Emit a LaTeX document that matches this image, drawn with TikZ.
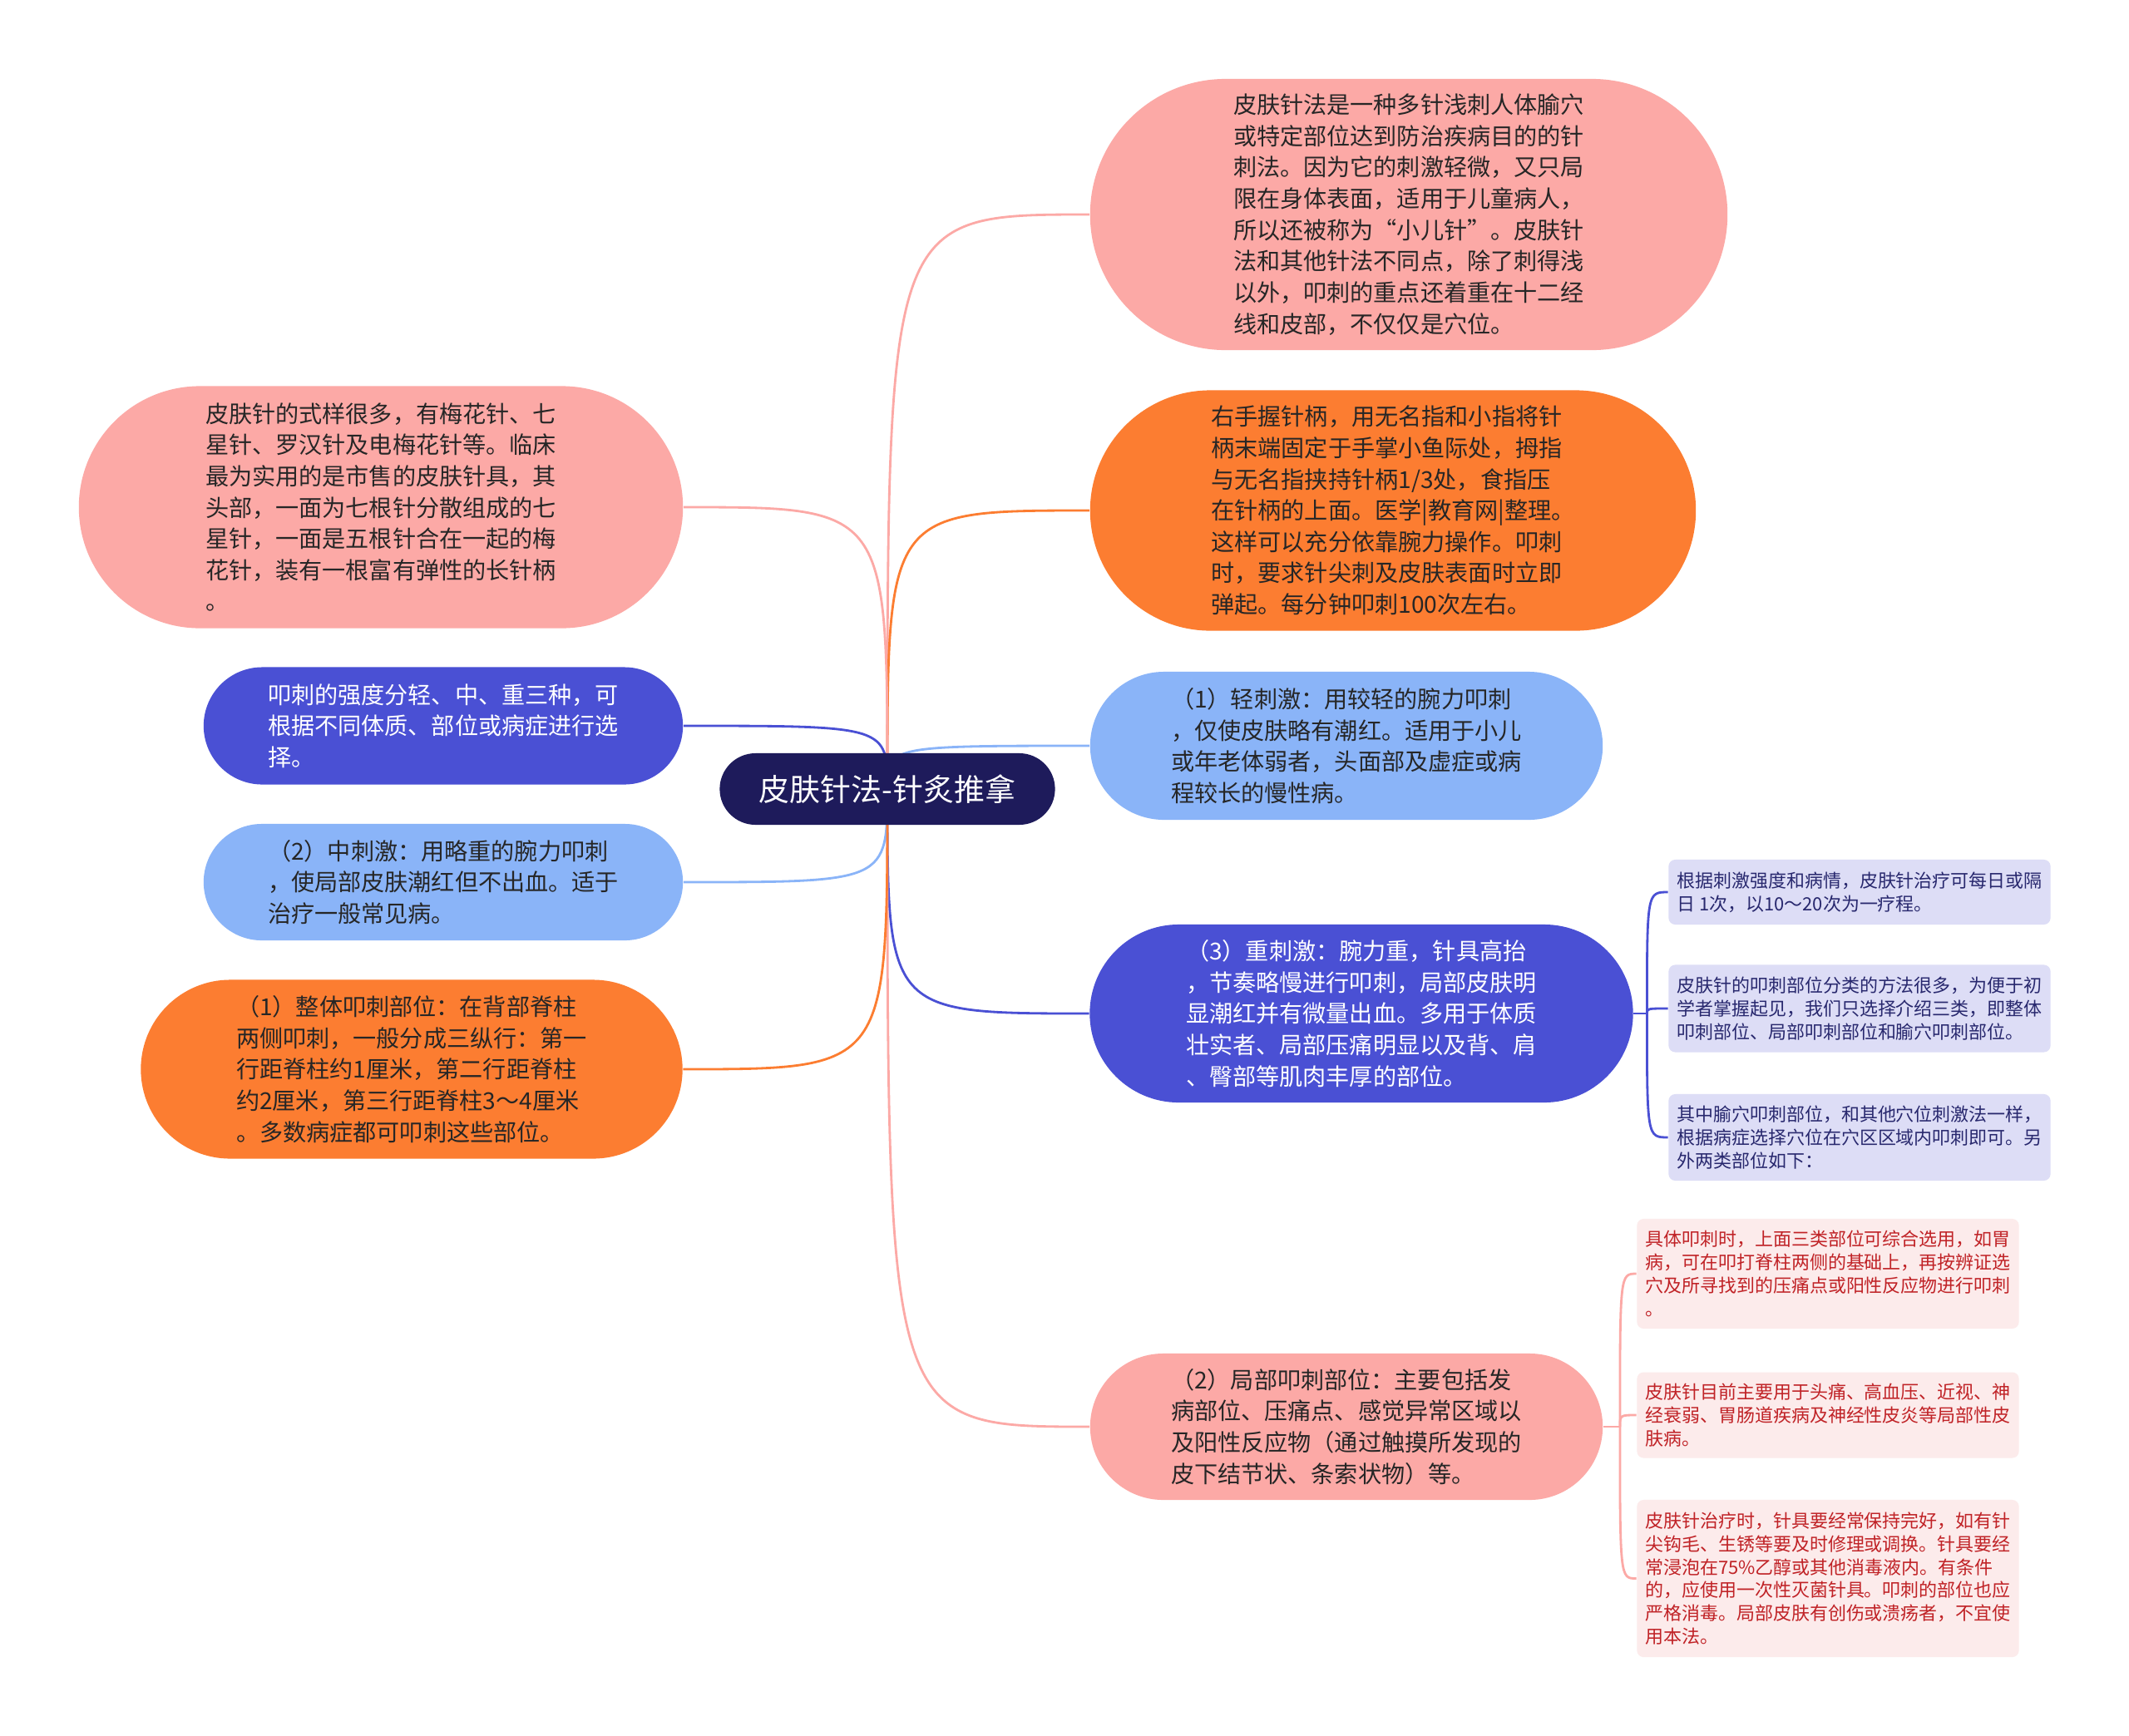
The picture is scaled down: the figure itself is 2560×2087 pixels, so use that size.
\documentclass[tikz,border=0pt]{standalone}
\usepackage{fontspec}
\setmainfont{Noto Sans CJK SC}
\usetikzlibrary{positioning, shapes.misc, backgrounds}
\definecolor{rootnavy}{RGB}{30,27,91}
\definecolor{nodepink}{RGB}{252,169,166}
\definecolor{nodeorange}{RGB}{252,125,49}
\definecolor{nodesky}{RGB}{138,180,248}
\definecolor{nodeblue}{RGB}{74,80,212}
\definecolor{leaflav}{RGB}{221,221,246}
\definecolor{leafpink}{RGB}{252,235,235}
\definecolor{leafred}{RGB}{192,34,38}
\definecolor{leafnavy}{RGB}{40,40,110}

\begin{document}
\begin{tikzpicture}[x=0.01cm, y=-0.01cm,
  pill/.style={rounded rectangle, inner sep=0pt, align=left, text=black!85,
               font=\fontsize{8}{10.7}\selectfont},
  leaf/.style={rectangle, rounded corners=0.8mm, inner sep=0pt, align=left,
               minimum width=4.59cm, font=\fontsize{6.25}{7.9}\selectfont},
  link/.style={line width=0.8pt}
]
\useasboundingbox (0,0) rectangle (2560,2087);

\node[pill, fill=rootnavy, text=white, minimum width=4.03cm, minimum height=0.86cm,
      font=\fontsize{10.5}{12}\selectfont] (root) at (1067,949) {皮肤针法-针炙推拿};

\node[pill, fill=nodepink, minimum width=7.66cm, minimum height=3.26cm] (intro) at (1694,258)
  {皮肤针法是一种多针浅刺人体腧穴\\或特定部位达到防治疾病目的的针\\刺法。因为它的刺激轻微，又只局\\限在身体表面，适用于儿童病人，\\所以还被称为“小儿针”。皮肤针\\法和其他针法不同点，除了刺得浅\\以外，叩刺的重点还着重在十二经\\线和皮部，不仅仅是穴位。};
\node[pill, fill=nodeorange, minimum width=7.28cm, minimum height=2.89cm] (hold) at (1675,614)
  {右手握针柄，用无名指和小指将针\\柄末端固定于手掌小鱼际处，拇指\\与无名指挟持针柄1/3处，食指压\\在针柄的上面。医学|教育网|整理。\\这样可以充分依靠腕力操作。叩刺\\时，要求针尖刺及皮肤表面时立即\\弹起。每分钟叩刺100次左右。};
\node[pill, fill=nodesky, minimum width=6.16cm, minimum height=1.78cm] (light) at (1619,897)
  {（1）轻刺激：用较轻的腕力叩刺\\，仅使皮肤略有潮红。适用于小儿\\或年老体弱者，头面部及虚症或病\\程较长的慢性病。};
\node[pill, fill=nodeblue, text=white, minimum width=6.53cm, minimum height=2.14cm] (heavy) at (1637,1219)
  {（3）重刺激：腕力重，针具高抬\\，节奏略慢进行叩刺，局部皮肤明\\显潮红并有微量出血。多用于体质\\壮实者、局部压痛明显以及背、肩\\、臀部等肌肉丰厚的部位。};
\node[pill, fill=nodepink, minimum width=6.16cm, minimum height=1.76cm] (local) at (1619,1716)
  {（2）局部叩刺部位：主要包括发\\病部位、压痛点、感觉异常区域以\\及阳性反应物（通过触摸所发现的\\皮下结节状、条索状物）等。};

\node[pill, fill=nodepink, minimum width=7.26cm, minimum height=2.91cm] (kinds) at (458,610)
  {皮肤针的式样很多，有梅花针、七\\星针、罗汉针及电梅花针等。临床\\最为实用的是市售的皮肤针具，其\\头部，一面为七根针分散组成的七\\星针，一面是五根针合在一起的梅\\花针，装有一根富有弹性的长针柄\\。};
\node[pill, fill=nodeblue, text=white, minimum width=5.76cm, minimum height=1.41cm] (force) at (533,873)
  {叩刺的强度分轻、中、重三种，可\\根据不同体质、部位或病症进行选\\择。};
\node[pill, fill=nodesky, minimum width=5.76cm, minimum height=1.40cm] (medium) at (533,1061)
  {（2）中刺激：用略重的腕力叩刺\\，使局部皮肤潮红但不出血。适于\\治疗一般常见病。};
\node[pill, fill=nodeorange, minimum width=6.51cm, minimum height=2.15cm] (whole) at (495,1286)
  {（1）整体叩刺部位：在背部脊柱\\两侧叩刺，一般分成三纵行：第一\\行距脊柱约1厘米，第二行距脊柱\\约2厘米，第三行距脊柱3～4厘米\\。多数病症都可叩刺这些部位。};

\node[leaf, fill=leaflav, text=leafnavy, minimum height=0.78cm] (t1) at (2236,1073)
  {根据刺激强度和病情，皮肤针治疗可每日或隔\\日 1次，以10～20次为一疗程。};
\node[leaf, fill=leaflav, text=leafnavy, minimum height=1.05cm, below=0.47cm of t1] (t2)
  {皮肤针的叩刺部位分类的方法很多，为便于初\\学者掌握起见，我们只选择介绍三类，即整体\\叩刺部位、局部叩刺部位和腧穴叩刺部位。};
\node[leaf, fill=leaflav, text=leafnavy, minimum height=1.04cm, below=0.49cm of t2] (t3)
  {其中腧穴叩刺部位，和其他穴位刺激法一样，\\根据病症选择穴位在穴区区域内叩刺即可。另\\外两类部位如下：};

\node[leaf, fill=leafpink, text=leafred, minimum height=1.32cm] (p1) at (2198,1532)
  {具体叩刺时，上面三类部位可综合选用，如胃\\病，可在叩打脊柱两侧的基础上，再按辨证选\\穴及所寻找到的压痛点或阳性反应物进行叩刺\\。};
\node[leaf, fill=leafpink, text=leafred, minimum height=1.03cm, below=0.51cm of p1] (p2)
  {皮肤针目前主要用于头痛、高血压、近视、神\\经衰弱、胃肠道疾病及神经性皮炎等局部性皮\\肤病。};
\node[leaf, fill=leafpink, text=leafred, minimum height=1.89cm, below=0.49cm of p2] (p3)
  {皮肤针治疗时，针具要经常保持完好，如有针\\尖钩毛、生锈等要及时修理或调换。针具要经\\常浸泡在75\%乙醇或其他消毒液内。有条件\\的，应使用一次性灭菌针具。叩刺的部位也应\\严格消毒。局部皮肤有创伤或溃疡者，不宜使\\用本法。};

\coordinate[right=0.16cm of heavy.east] (hj);
\coordinate[right=0.20cm of local.east] (lj);

\begin{scope}[on background layer]
\fill[white] (0,0) rectangle (2560,2087);
\draw[link, nodepink] (root.center) .. controls (root.center |- intro.west) .. (intro.west);
\draw[link, nodeorange] (root.center) .. controls (root.center |- hold.west) .. (hold.west);
\draw[link, nodesky] (root.center) .. controls (root.center |- light.west) .. (light.west);
\draw[link, nodeblue] (root.center) .. controls (root.center |- heavy.west) .. (heavy.west);
\draw[link, nodepink] (root.center) .. controls (root.center |- local.west) .. (local.west);
\draw[link, nodepink] (root.center) .. controls (root.center |- kinds.east) .. (kinds.east);
\draw[link, nodeblue] (root.center) .. controls (root.center |- force.east) .. (force.east);
\draw[link, nodesky] (root.center) .. controls (root.center |- medium.east) .. (medium.east);
\draw[link, nodeorange] (root.center) .. controls (root.center |- whole.east) .. (whole.east);
\draw[link, nodeblue] (heavy.east) -- (hj);
\foreach \s in {t1,t2,t3}
  \draw[link, nodeblue] (hj) .. controls (hj |- \s.west) .. (\s.west);
\draw[link, nodepink] (local.east) -- (lj);
\foreach \s in {p1,p2,p3}
  \draw[link, nodepink] (lj) .. controls (lj |- \s.west) .. (\s.west);
\end{scope}
\end{tikzpicture}
\end{document}
